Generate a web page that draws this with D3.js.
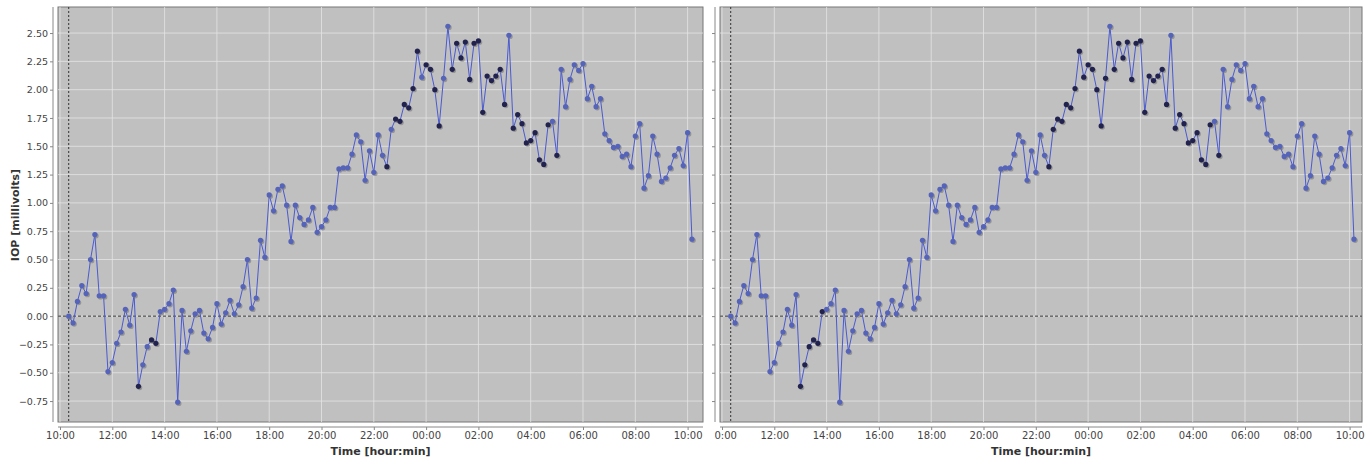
<!DOCTYPE html>
<html><head><meta charset="utf-8">
<script src="https://cdn.jsdelivr.net/npm/d3@7"></script>
<style>body{margin:0;background:#fff}svg text{font-family:"DejaVu Sans",sans-serif}</style>
</head><body><div id="chart"></div>
<script>
// データ: 10分ごとの IOP (10:20 開始)
const startTime = new Date(2000, 0, 1, 10, 20);
const stepMinutes = 10;
const iop = [
  0, -0.06, 0.13, 0.27, 0.20, 0.50, 0.72, 0.18, 0.18, -0.49,
  -0.41, -0.24, -0.14, 0.06, -0.08, 0.19, -0.62, -0.43, -0.27, -0.21,
  -0.24, 0.04, 0.06, 0.11, 0.23, -0.76, 0.05, -0.31, -0.13, 0.02,
  0.05, -0.15, -0.20, -0.10, 0.11, -0.07, 0.03, 0.14, 0.02, 0.10,
  0.26, 0.50, 0.07, 0.16, 0.67, 0.52, 1.07, 0.93, 1.12, 1.15,
  0.98, 0.66, 0.98, 0.87, 0.81, 0.85, 0.96, 0.74, 0.79, 0.85,
  0.96, 0.96, 1.30, 1.31, 1.31, 1.43, 1.60, 1.54, 1.20, 1.46,
  1.27, 1.60, 1.42, 1.32, 1.65, 1.74, 1.72, 1.87, 1.84, 2.01,
  2.34, 2.11, 2.22, 2.18, 2.00, 1.68, 2.10, 2.56, 2.18, 2.41,
  2.28, 2.42, 2.09, 2.41, 2.43, 1.80, 2.12, 2.08, 2.12, 2.18,
  1.87, 2.48, 1.66, 1.78, 1.70, 1.53, 1.55, 1.62, 1.38, 1.34,
  1.69, 1.72, 1.42, 2.18, 1.85, 2.09, 2.22, 2.17, 2.23, 1.92,
  2.03, 1.85, 1.92, 1.61, 1.55, 1.49, 1.50, 1.41, 1.43, 1.32,
  1.59, 1.70, 1.13, 1.24, 1.59, 1.43, 1.19, 1.22, 1.31, 1.42,
  1.48, 1.33, 1.62, 0.68
];
// 濃い色の点 (0始まりのインデックス)
const darkLeft = [16, 19, 20, 73, 75, 76, 77, 78, 79, 80, 82, 83, 84, 85, 88, 89, 90, 91, 92, 93, 94, 95, 96, 97, 98, 99, 100, 102, 103, 104, 105, 106, 107, 108, 109, 110, 112];
const darkRight = [16, 17, 18, 19, 20, 21, 73, 74, 75, 76, 77, 78, 79, 80, 81, 82, 83, 84, 85, 86, 88, 89, 90, 91, 92, 93, 94, 95, 96, 97, 98, 99, 100, 102, 103, 104, 105, 106, 107, 108, 109, 110, 112];
const yTicks = [-0.75, -0.5, -0.25, 0, 0.25, 0.5, 0.75, 1, 1.25, 1.5, 1.75, 2, 2.25, 2.5];

const data = iop.map((v, i) => ({ t: new Date(+startTime + i * stepMinutes * 60000), v: v }));

const svg = d3.select("#chart").append("svg").attr("width", 1367).attr("height", 459);

function drawPanel(opt) {
  const x = d3.scaleTime()
    .domain([new Date(2000, 0, 1, 10, 0), new Date(2000, 0, 2, 10, 0)])
    .range([opt.x10, opt.x10 + 24 * 26.15]);
  const y = d3.scaleLinear().domain([-0.935, 2.73]).range([422, 7]);
  const g = svg.append("g");
  const clipId = "clip" + opt.id;
  g.append("clipPath").attr("id", clipId).append("rect")
    .attr("x", opt.left).attr("y", 7).attr("width", opt.right - opt.left).attr("height", 415);

  g.append("rect").attr("x", opt.left).attr("y", 7).attr("width", opt.right - opt.left).attr("height", 415)
    .attr("fill", "#c0c0c0").attr("stroke", "#777").attr("stroke-width", 1);

  const xTicks = d3.range(0, 13).map((k) => new Date(2000, 0, 1, 10 + 2 * k, 0));
  const grid = g.append("g").attr("clip-path", `url(#${clipId})`);
  grid.selectAll(".gx").data(xTicks).enter().append("line")
    .attr("x1", (d) => x(d)).attr("x2", (d) => x(d)).attr("y1", 7).attr("y2", 422)
    .attr("stroke", "#e4e4e4").attr("stroke-width", 0.8);
  grid.selectAll(".gy").data(yTicks).enter().append("line")
    .attr("x1", opt.left).attr("x2", opt.right).attr("y1", (d) => y(d)).attr("y2", (d) => y(d))
    .attr("stroke", "#e4e4e4").attr("stroke-width", 0.8);
  // 基準線
  grid.append("line").attr("x1", opt.left).attr("x2", opt.right).attr("y1", y(0)).attr("y2", y(0))
    .attr("stroke", "#333").attr("stroke-dasharray", "3,2");
  grid.append("line").attr("x1", x(data[0].t)).attr("x2", x(data[0].t)).attr("y1", 7).attr("y2", 422)
    .attr("stroke", "#333").attr("stroke-dasharray", "2,2");

  // 軸
  const yAxis = g.append("g").attr("transform", `translate(${opt.left - 5},0)`)
    .call(d3.axisLeft(y).tickValues(yTicks).tickSize(3).tickPadding(2)
      .tickFormat(opt.labels ? d3.format(".2f") : ""));
  yAxis.select(".domain").attr("stroke", "#888").attr("d", "M0,7V422");
  yAxis.selectAll("line").attr("stroke", "#888");
  yAxis.selectAll("text").attr("fill", "#444").style("font-size", "9.5px");

  const xAxis = g.append("g").attr("transform", "translate(0,427)")
    .call(d3.axisBottom(x).tickValues(xTicks).tickSize(3).tickPadding(2).tickFormat(d3.timeFormat("%H:%M")));
  xAxis.select(".domain").attr("stroke", "#888").attr("d", `M${opt.left},0H${opt.right}`);
  xAxis.selectAll("line").attr("stroke", "#888");
  xAxis.selectAll("text").attr("fill", "#444").style("font-size", "10px");

  g.append("text").attr("x", (opt.left + opt.right) / 2).attr("y", 455).attr("text-anchor", "middle")
    .attr("font-weight", "bold").attr("fill", "#333").style("font-size", "11px").text("Time [hour:min]");

  // 系列
  const line = d3.line().x((d) => x(d.t)).y((d) => y(d.v));
  const plot = g.append("g").attr("clip-path", `url(#${clipId})`);
  plot.append("path").datum(data).attr("d", line).attr("fill", "none")
    .attr("stroke", "#4a5ad0").attr("stroke-width", 1);
  plot.selectAll(".sh").data(data).enter().append("circle")
    .attr("cx", (d) => x(d.t) + 1.2).attr("cy", (d) => y(d.v) + 1.2).attr("r", 2.6)
    .attr("fill", "#777").attr("opacity", 0.6);
  plot.selectAll(".pt").data(data).enter().append("circle")
    .attr("cx", (d) => x(d.t)).attr("cy", (d) => y(d.v)).attr("r", 2.6)
    .attr("fill", (d, i) => (opt.dark.includes(i) ? "#22224e" : "#5563b8"));
}

drawPanel({ id: "L", left: 58, right: 703, x10: 60, labels: true, dark: darkLeft });
drawPanel({ id: "R", left: 720, right: 1362, x10: 722, labels: false, dark: darkRight });

// 縦軸ラベルと右パネル左端の切り抜き
svg.append("rect").attr("x", 704).attr("y", 429).attr("width", 10.5).attr("height", 20).attr("fill", "#fff");
svg.append("text").attr("transform", "translate(19,215) rotate(-90)").attr("text-anchor", "middle")
  .attr("font-weight", "bold").attr("fill", "#333").style("font-size", "11px").text("IOP [millivolts]");
</script></body></html>
